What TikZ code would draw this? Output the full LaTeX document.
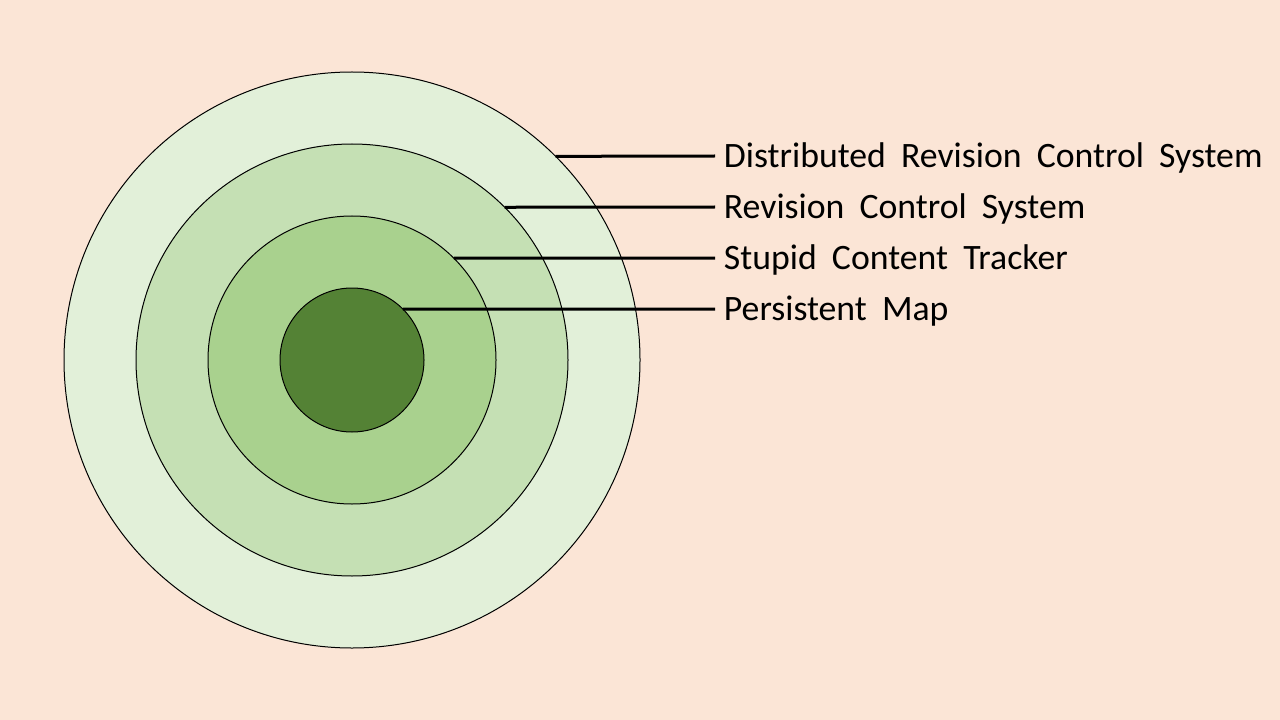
\documentclass[tikz,border=0pt]{standalone}
\usepackage{fontspec}
\setmainfont{Carlito}
\definecolor{bgpeach}{HTML}{FBE5D6}
\definecolor{ringA}{HTML}{E2F0D9}
\definecolor{ringB}{HTML}{C5E0B4}
\definecolor{ringC}{HTML}{A9D18E}
\definecolor{ringD}{HTML}{548235}
\newcommand\lblfont{\fontsize{26.8}{30}\selectfont\spaceskip=11.4pt plus 0pt minus 0pt\relax}
\begin{document}
\begin{tikzpicture}[x=0.75pt,y=-0.75pt,
  ring/.style={circle,draw=black,line width=0.75pt,inner sep=0pt,outer sep=0pt},
  lbl/.style={anchor=west,inner xsep=6.5pt,inner ysep=0pt,font=\lblfont,text=black},
  lead/.style={line width=2.25pt,draw=black}]
\fill[bgpeach] (0,0) rectangle (1280,720);
\useasboundingbox (0,0) rectangle (1280,720);
\node[ring,fill=ringA,minimum size=432pt] (c1) at (352,360) {};
\node[ring,fill=ringB,minimum size=324pt] (c2) at (352,360) {};
\node[ring,fill=ringC,minimum size=216pt] (c3) at (352,360) {};
\node[ring,fill=ringD,minimum size=108pt] (c4) at (352,360) {};
\node[lbl] (t1) at (715,158) {Distributed Revision Control System};
\node[lbl] (t2) at (715,209) {Revision Control System};
\node[lbl] (t3) at (715,260) {Stupid Content Tracker};
\node[lbl] (t4) at (715,311) {Persistent Map};
\draw[lead] (c1.45) -- ([yshift=1.5pt]t1.west);
\draw[lead] (c2.45) -- ([yshift=1.5pt]t2.west);
\draw[lead] (c3.45) -- ([yshift=1.5pt]t3.west);
\draw[lead] (c4.45) -- ([yshift=1.5pt]t4.west);
\end{tikzpicture}
\end{document}
